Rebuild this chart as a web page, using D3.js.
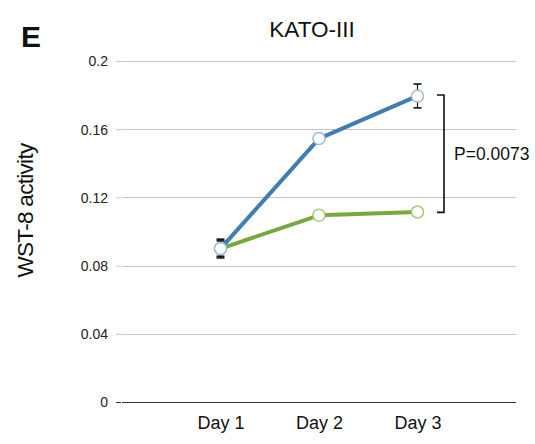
<!DOCTYPE html>
<html>
<head>
<meta charset="utf-8">
<script src="https://cdn.jsdelivr.net/npm/d3@7"></script>
<style>
  html, body { margin: 0; padding: 0; background: #fff; }
  svg { display: block; font-family: "Liberation Sans", Arial, sans-serif; }
</style>
</head>
<body>
<svg id="chart" width="535" height="444"></svg>
<script>
// WST-8 activity of KATO-III cells over three days
const days = ["Day 1", "Day 2", "Day 3"];
const controlValues = [0.090, 0.1545, 0.1795];
const controlErrors = [0.0055, 0.0005, 0.0070];
const treatedValues = [0.090, 0.1095, 0.1115];
const treatedErrors = [0.0045, 0.0005, 0.0012];
const yTicks = [0, 0.04, 0.08, 0.12, 0.16, 0.2];
const yTickLabels = ["0", "0.04", "0.08", "0.12", "0.16", "0.2"];
const pValueLabel = "P=0.0073";

const svg = d3.select("#chart");
const margin = { left: 122, right: 19, top: 61, bottom: 42 };
const W = 535, H = 444;
const FONT = "Liberation Sans, Arial, sans-serif";

const x = d3.scalePoint().domain(days).range([margin.left, W - margin.right]).padding(1);
const y = d3.scaleLinear().domain([0, 0.2]).range([H - margin.bottom, margin.top]);

// gridlines
svg.append("g").selectAll("line").data(yTicks.filter(d => d > 0)).join("line")
  .attr("x1", margin.left).attr("x2", W - margin.right)
  .attr("y1", d => Math.round(y(d)) + 0.5).attr("y2", d => Math.round(y(d)) + 0.5)
  .attr("stroke", "#c4c4c4").attr("stroke-width", 1);

// y axis
const yAxis = d3.axisLeft(y).tickValues(yTicks)
  .tickFormat((d, i) => yTickLabels[i]).tickSize(5).tickPadding(8);
const gy = svg.append("g").attr("transform", `translate(${margin.left - 1},0)`).call(yAxis);
gy.select(".domain").remove();
gy.attr("font-size", null).attr("font-family", null);
gy.selectAll(".tick line").attr("stroke", "#c4c4c4");
gy.selectAll(".tick").filter(d => d === 0).select("line").attr("stroke", "#333");
gy.selectAll("text").attr("font-size", 14).attr("fill", "#222")
  .attr("font-family", FONT).attr("dy", "0.35em");

// baseline
svg.append("line")
  .attr("x1", margin.left).attr("x2", W - margin.right)
  .attr("y1", Math.round(y(0)) + 0.5).attr("y2", Math.round(y(0)) + 0.5)
  .attr("stroke", "#333").attr("stroke-width", 1.2);

// x axis labels
const xAxis = d3.axisBottom(x).tickSize(0).tickPadding(14);
const gx = svg.append("g").attr("transform", `translate(0,${y(0)})`).call(xAxis);
gx.select(".domain").remove();
gx.attr("font-size", null).attr("font-family", null);
gx.selectAll("text").attr("font-size", 18).attr("fill", "#111")
  .attr("font-family", FONT);

// series
const series = [
  { values: treatedValues, errors: treatedErrors, color: "#76a83c", marker: "#a8ca7c" },
  { values: controlValues, errors: controlErrors, color: "#3f7db3", marker: "#9cbbd9" }
];

const line = d3.line().x((d, i) => x(days[i])).y(d => y(d));

series.forEach(s => {
  svg.append("path").datum(s.values)
    .attr("d", line).attr("fill", "none")
    .attr("stroke", s.color).attr("stroke-width", 4).attr("stroke-linejoin", "round");
});

// error bars
series.forEach(s => {
  const g = svg.append("g");
  s.values.forEach((v, i) => {
    const cx = x(days[i]);
    const e = s.errors[i];
    if (e < 0.001) return;
    g.append("line").attr("x1", cx).attr("x2", cx)
      .attr("y1", y(v + e)).attr("y2", y(v - e))
      .attr("stroke", "#111").attr("stroke-width", 1.2);
    [v + e, v - e].forEach(t => {
      g.append("line").attr("x1", cx - 4).attr("x2", cx + 4)
        .attr("y1", y(t)).attr("y2", y(t))
        .attr("stroke", "#111").attr("stroke-width", 1.6);
    });
  });
});

// markers
series.forEach(s => {
  svg.append("g").selectAll("circle").data(s.values).join("circle")
    .attr("cx", (d, i) => x(days[i])).attr("cy", d => y(d)).attr("r", 6)
    .attr("fill", "#fff").attr("stroke", s.marker).attr("stroke-width", 1.5);
});

// significance bracket
const bx = 444, bTop = y(controlValues[2]) - 1, bBot = y(treatedValues[2]) + 0.5;
svg.append("path")
  .attr("d", `M${bx - 7},${bTop} H${bx} V${bBot} H${bx - 7}`)
  .attr("fill", "none").attr("stroke", "#111").attr("stroke-width", 1.6);
svg.append("text").attr("x", 454).attr("y", (bTop + bBot) / 2 + 6)
  .attr("font-size", 17.5).attr("fill", "#111").text(pValueLabel);

// y axis title
svg.append("text")
  .attr("transform", `translate(33,${(y(0) + y(0.2)) / 2 - 21}) rotate(-90)`)
  .attr("text-anchor", "middle").attr("font-size", 22.5).attr("letter-spacing", -0.7)
  .attr("fill", "#111")
  .text("WST-8 activity");

// chart title and panel letter
svg.append("text").attr("x", 312).attr("y", 37).attr("text-anchor", "middle")
  .attr("font-size", 22.5).attr("fill", "#111").text("KATO-III");
svg.append("text").attr("x", 21).attr("y", 47)
  .attr("font-size", 30).attr("font-weight", "bold").attr("fill", "#111").text("E");
</script>
</body>
</html>
